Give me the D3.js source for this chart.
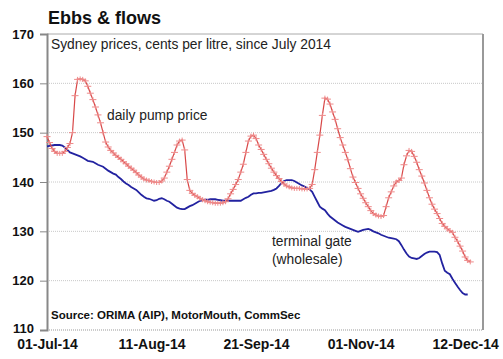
<!DOCTYPE html>
<html><head><meta charset="utf-8">
<script src="https://cdn.jsdelivr.net/npm/d3@7"></script>
<style>body{margin:0;background:#fff}svg{display:block}text{font-family:"Liberation Sans",Arial,sans-serif}</style>
</head><body><svg id="c" width="503" height="359"></svg>
<script>
const startDate = "2014-07-01";
const tickLabels = ["01-Jul-14","11-Aug-14","21-Sep-14","01-Nov-14","12-Dec-14"];
const yTicks = [110,120,130,140,150,160,170];
const pumpPrice = [149.2,148,146.8,146.2,145.8,145.8,145.8,146.2,147,147.8,150,157.5,160.8,160.9,160.8,160.5,
159.4,158,156.7,155.2,153.6,152,150,148.1,147.1,146.4,145.9,145.4,145,144.6,144.1,143.7,143.2,142.8,142.4,141.9,141.4,141,140.6,140.4,
140.3,140.1,140,139.9,139.9,140.2,140.8,142,143.2,144.6,146,147.5,148.3,148.5,146.5,140.5,138.3,137.7,137.3,137,
136.7,136.4,136.2,136,135.9,135.8,135.7,135.7,135.7,135.8,136,136.6,137.6,138.5,139.5,140.5,142,143.6,146,148.3,
149.3,149.5,148.8,147.5,146.6,145.6,144.6,143.7,142.8,142,141.3,140.7,140.1,139.6,139.2,139,138.8,138.7,138.7,138.7,
138.6,138.6,138.6,138.7,139.5,142.5,146,149.5,153.5,157,156.8,155.8,154.2,152.7,150.8,149,147.5,146,144.5,142.7,
141,139.9,138.7,137.6,136.7,135.8,135,134.2,133.6,133.3,133.1,133,133.2,135,136.8,138,139.2,140,140.3,140.8,
143.5,145.3,146.4,146.2,145.2,144,142.5,141.2,139.8,138.3,136.8,135.5,134.5,133.6,132.6,131.6,131,130.5,130.1,129.8,
128.8,128,127,126,124.8,124.1,123.8];
const terminalGate = [147.2,147.3,147.4,147.5,147.5,147.5,147.4,147,146.5,146,145.8,145.6,145.4,145.2,144.9,144.6,144.3,144.2,144.1,143.8,
143.5,143.3,143.1,142.7,142.3,142,141.7,141.5,141,140.6,140.1,139.7,139.4,139,138.7,138.4,137.9,137.4,137,136.7,
136.6,136.4,136.2,136.3,136.6,136.7,136.5,136.2,136,135.6,135.2,134.8,134.6,134.5,134.5,134.8,135.1,135.3,135.6,135.9,
136.2,136.3,136.4,136.4,136.5,136.5,136.5,136.4,136.3,136.2,136.2,136.2,136.2,136.2,136.2,136.2,136.2,136.5,136.8,137,
137.4,137.7,137.7,137.8,137.8,137.9,138,138.1,138.2,138.4,138.7,139.2,139.8,140.2,140.4,140.4,140.4,140.2,139.9,139.6,
139.3,139.1,138.8,138.5,138,137,136,135,134.6,134.3,133.6,133,132.6,132.2,131.8,131.5,131.2,130.9,130.7,130.5,
130.3,130.1,129.9,130.1,130.3,130.4,130.5,130.3,130,129.8,129.6,129.3,129.1,128.9,128.7,128.6,128.5,128.4,128,127.2,
126.3,125.5,124.9,124.6,124.5,124.4,124.6,125,125.4,125.7,125.9,125.9,125.9,125.8,125.2,123.5,122,121.6,121.3,120.4,
119.6,118.8,118.1,117.5,117.2,117.2];

const parse = d3.timeParse("%Y-%m-%d");
const d0 = parse(startDate);
const day = i => d3.timeDay.offset(d0, i);
const fmtIn = d3.timeParse("%d-%b-%y");

const L = 47, R = 483, T = 34, B = 330;
const x = d3.scaleTime().domain([d0, parse("2014-12-19")]).range([L, R]);
const y = d3.scaleLinear().domain([110,170]).range([B, T]);
const svg = d3.select("#c");

// gridlines
svg.append("g").selectAll("line").data(yTicks.filter(v => v > 110 && v < 170)).join("line")
  .attr("x1", L).attr("x2", R).attr("y1", d => y(d)).attr("y2", d => y(d))
  .attr("stroke", "#c8c8c8").attr("stroke-width", 1).attr("stroke-dasharray", "1,1");
// bottom dotted
svg.append("line").attr("x1", L).attr("x2", R).attr("y1", B).attr("y2", B)
  .attr("stroke", "#999").attr("stroke-dasharray", "1,1");
// top / right border
svg.append("line").attr("x1", L).attr("x2", R).attr("y1", T).attr("y2", T).attr("stroke", "#aaa");
svg.append("line").attr("x1", R).attr("x2", R).attr("y1", T).attr("y2", B).attr("stroke", "#999").attr("stroke-width", 2);

// y axis
const ya = svg.append("g").attr("transform", `translate(${L},0)`)
  .call(d3.axisLeft(y).tickValues(yTicks).tickSize(7).tickPadding(6).tickFormat(d3.format("d")));
ya.select(".domain").attr("stroke", "#888").attr("stroke-width", 2);
ya.selectAll(".tick line").attr("stroke", "#888");
ya.selectAll("text").attr("font-size", 13).attr("font-weight", "bold").attr("fill", "#111")
  .attr("font-family", '"Liberation Sans",Arial,sans-serif');
ya.selectAll(".tick").filter(d => d === 110).select("text").attr("dy", "0.2em");

// x axis labels
const xa = svg.append("g").attr("transform", `translate(0,${B})`)
  .call(d3.axisBottom(x).tickValues(tickLabels.map(fmtIn)).tickSize(0).tickPadding(9)
    .tickFormat((d, i) => tickLabels[i]));
xa.select(".domain").remove();
xa.selectAll("text").attr("font-size", 14).attr("font-weight", "bold").attr("fill", "#111")
  .attr("font-family", '"Liberation Sans",Arial,sans-serif');

// lines
const line = d3.line().x((d, i) => x(day(i))).y(d => y(d));
svg.append("path").datum(terminalGate).attr("d", line).attr("fill", "none")
  .attr("stroke", "#2222a0").attr("stroke-width", 1.8);
svg.append("path").datum(pumpPrice).attr("d", line).attr("fill", "none")
  .attr("stroke", "#d84848").attr("stroke-width", 1.2);
svg.append("g").selectAll("path").data(pumpPrice).join("path")
  .attr("transform", (d, i) => `translate(${x(day(i))},${y(d)})`)
  .attr("d", "M-3.5,0H3.5M0,-2.5V2.5").attr("stroke", "#ee8a8a").attr("stroke-width", 1).attr("fill", "none");

// texts
svg.append("text").attr("x", 48).attr("y", 24).attr("font-size", 18).attr("font-weight", "bold").attr("fill", "#111").text("Ebbs & flows");
svg.append("text").attr("x", 51).attr("y", 49).attr("font-size", 13.8).attr("fill", "#222").text("Sydney prices, cents per litre, since July 2014");
svg.append("text").attr("x", 107).attr("y", 120).attr("font-size", 13.8).attr("fill", "#222").text("daily pump price");
svg.append("text").attr("x", 272).attr("y", 246).attr("font-size", 13.8).attr("fill", "#222").text("terminal gate");
svg.append("text").attr("x", 272).attr("y", 264).attr("font-size", 13.8).attr("fill", "#222").text("(wholesale)");
svg.append("text").attr("x", 51).attr("y", 319).attr("font-size", 11.5).attr("font-weight", "bold").attr("fill", "#111").text("Source: ORIMA (AIP), MotorMouth, CommSec");
</script></body></html>
